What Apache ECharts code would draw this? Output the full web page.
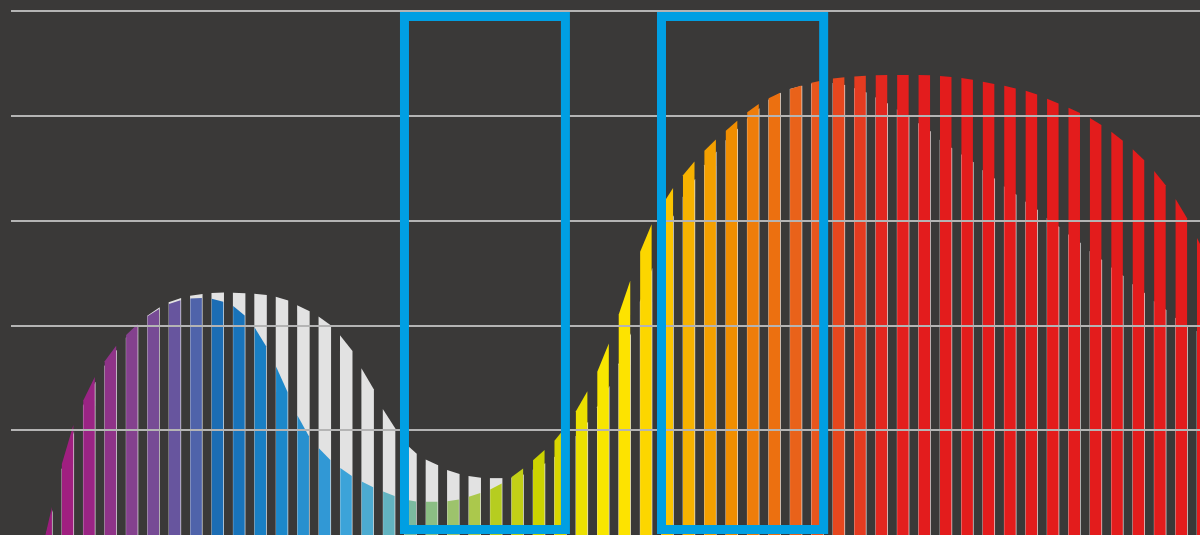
<!DOCTYPE html>
<html>
<head>
<meta charset="utf-8">
<script src="https://cdn.jsdelivr.net/npm/echarts@6/dist/echarts.min.js"></script>
<style>
  html, body { margin: 0; padding: 0; background: #3a3938; }
  #chart { width: 1200px; height: 535px; }
</style>
</head>
<body>
<div id="chart"></div>
<script>
// Stripe positions (wavelength, nm)
const wavelengths = [380, 387, 394, 401, 408, 415, 422, 429, 436, 443, 450, 457, 464, 471, 478, 485, 492, 499, 506, 513,
  520, 527, 534, 541, 548, 555, 562, 569, 576, 583, 590, 597, 604, 611, 618, 625, 632, 639, 646, 653,
  660, 667, 674, 681, 688, 695, 702, 709, 716, 723, 730, 737, 744, 751, 758];

// Reference (white) spectrum, relative intensity
const referenceLevel = [0.3, 17, 27.5, 34, 39, 42.9, 45.0, 45.9, 46.3, 46.2, 46.0, 45.3, 43.3, 41.1, 37.0, 29.9, 21.9, 16.1, 13.8, 11.9,
  11.0, 10.8, 11.0, 13.0, 15.5, 20.0, 26.0, 35.0, 48.0, 59.0, 66.5, 72.0, 76.5, 80.5, 84.0, 85.5, 86.4, 86.2, 85.0, 83.0,
  80.6, 77.9, 74.5, 72.0, 68.8, 65.7, 62.9, 59.6, 56.6, 53.3, 50.3, 47.0, 43.8, 40.6, 38.3];

// Coloured spectrum, relative intensity
const spectrumLevel = [0.6, 18.3, 28.4, 34.9, 39.4, 42.6, 44.6, 45.3, 45.0, 43.2, 38.3, 29.9, 20.2, 15.2, 11.9, 9.6, 7.8, 6.4, 6.3, 6.5,
  7.6, 9.1, 11.8, 15.2, 19.0, 25.3, 33.3, 45.3, 57.3, 64.8, 70.1, 74.5, 78.1, 81.6, 84.0, 85.5, 86.6, 87.3, 87.6, 87.8,
  87.8, 87.8, 87.5, 87.1, 86.3, 85.5, 84.5, 82.8, 81.1, 79.0, 76.2, 72.7, 68.3, 62.6, 54.5];

// Highlighted wavelength bands [start, end]
const bandStart = [497.1, 581.1];
const bandEnd = [549.7, 634.1];

// Y axis ticks (the 0 line sits on the bottom edge and is not drawn)
const yTicks = [0, 20, 40, 60, 80, 100];

// ---- styles ----
const stripeColors = ['#9c1c7e', '#a01f80', '#9a2484', '#8f3388', '#84418e', '#774b95', '#67559e', '#4f63aa', '#1c6db4', '#1873ba',
  '#197fc3', '#1c88ca', '#2890cf', '#3198d5', '#3ca3d9', '#4cabd1', '#62b3c0', '#7bba9f', '#8bbe84', '#9dc36c',
  '#abc84c', '#b6cd20', '#c2d016', '#ccd300', '#d9d600', '#ece000', '#f8e600', '#fde300', '#fcd600', '#fbc400',
  '#f7b200', '#f4a000', '#f18e00', '#ef7d0a', '#ec7010', '#e9621a', '#e7561c', '#e6471e', '#e53b20', '#e3271f',
  '#e31f1e', '#e31c1d', '#e31c1c', '#e31c1c', '#e31c1c', '#e31c1c', '#e31c1c', '#e31c1c', '#e31c1c', '#e31c1c',
  '#e31c1c', '#e31c1c', '#e31c1c', '#e31c1c', '#e31c1c'];
const EDGE_FRAC = 0.2685;   // half stripe width relative to stripe spacing
const WHITE = '#e2e2e2';
const BG = '#3a3938';
const GRID_COLOR = '#b4b4b4';

// value of the curve at a stripe edge (linear between neighbouring stripes, extrapolated at ends)
function edgeValue(arr, i, dir) {
  const v = arr[i];
  const j = i + dir;
  let n;
  if (j < 0 || j >= arr.length) n = 2 * v - arr[i - dir];
  else n = arr[j];
  return v + (n - v) * EDGE_FRAC;
}

// stripe polygon in pixel space, clipped to the non‑negative part of the curve
function stripePoints(api, x, xl, xr, vl, vr) {
  const y0 = api.coord([x, 0])[1];
  const yl = api.coord([x, Math.max(0, vl)])[1];
  const yr = api.coord([x, Math.max(0, vr)])[1];
  if (vl >= 0 && vr >= 0) return [[xl, y0], [xl, yl], [xr, yr], [xr, y0]];
  if (vl < 0 && vr > 0) {
    const xc = xl + (xr - xl) * (-vl / (vr - vl));
    return [[xc, y0], [xr, yr], [xr, y0]];
  }
  if (vr < 0 && vl > 0) {
    const xc = xl + (xr - xl) * (vl / (vl - vr));
    return [[xl, y0], [xl, yl], [xc, y0]];
  }
  return [[xl, y0], [xr, y0], [xr, y0]];
}

const stripeData = wavelengths.map((w, i) => [w, referenceLevel[i], spectrumLevel[i]]);
const bandData = bandStart.map((s, i) => [s, bandEnd[i]]);

const chart = echarts.init(document.getElementById('chart'), null, { renderer: 'canvas' });
chart.setOption({
  backgroundColor: BG,
  animation: false,
  grid: { left: 11, right: 0, top: 11, height: 525, containLabel: false },
  xAxis: {
    type: 'value', min: 368.5, max: 757.1, show: false
  },
  yAxis: {
    type: 'value', min: yTicks[0], max: yTicks[yTicks.length - 1], interval: yTicks[1] - yTicks[0],
    z: 5,
    axisLine: { show: false }, axisTick: { show: false }, axisLabel: { show: false },
    splitLine: { show: true, lineStyle: {
      color: yTicks.map((t) => (t === 0 ? 'rgba(0,0,0,0)' : GRID_COLOR)), width: 2 } }
  },
  series: [
    {
      type: 'custom',
      z: 2,
      silent: true,
      data: stripeData,
      renderItem: function (params, api) {
        const i = params.dataIndex;
        const x = api.value(0);
        const base = api.coord([x, 0]);
        const step = api.size([7, 0])[0];
        const half = step * EDGE_FRAC;
        const xl = base[0] - half, xr = base[0] + half;
        return {
          type: 'group',
          children: [
            { type: 'polygon',
              shape: { points: stripePoints(api, x, xl - 0.3, xr + 0.7,
                edgeValue(referenceLevel, i, -1), edgeValue(referenceLevel, i, 1)) },
              style: { fill: WHITE } },
            { type: 'polygon',
              shape: { points: stripePoints(api, x, xl, xr,
                edgeValue(spectrumLevel, i, -1), edgeValue(spectrumLevel, i, 1)) },
              style: { fill: stripeColors[i] } }
          ]
        };
      }
    },
    {
      type: 'custom',
      z: 10,
      silent: true,
      data: bandData,
      renderItem: function (params, api) {
        const p1 = api.coord([api.value(0), 98.95]);
        const p2 = api.coord([api.value(1), 1.05]);
        return {
          type: 'rect',
          shape: { x: p1[0], y: p1[1], width: p2[0] - p1[0], height: p2[1] - p1[1] },
          style: { fill: null, stroke: '#009fe3', lineWidth: 9 }
        };
      }
    }
  ]
});
</script>
</body>
</html>
